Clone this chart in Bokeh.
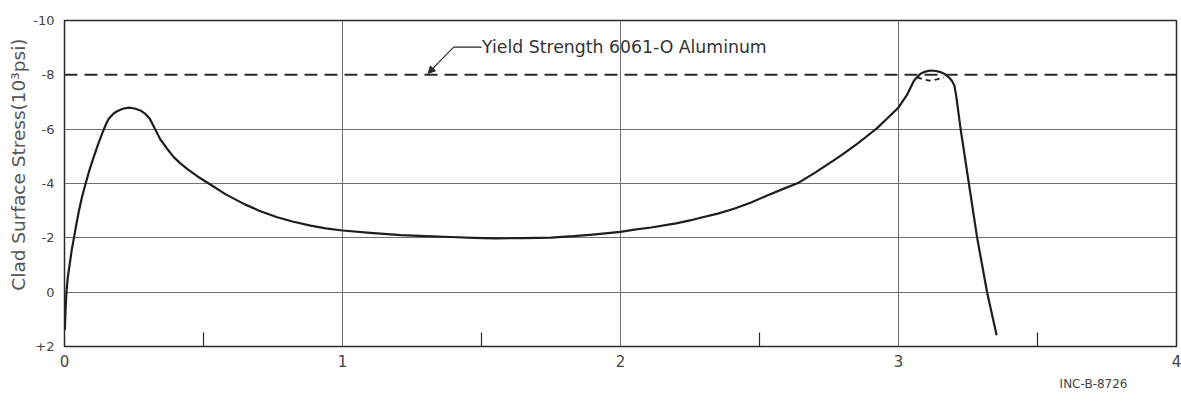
from bokeh.plotting import figure
from bokeh.models import Range1d, FixedTicker, Label, Arrow, NormalHead, Title
from bokeh.embed import file_html
from bokeh.resources import INLINE

# ---- data ----
stress_x = [0.001, 0.004, 0.007, 0.012, 0.019, 0.026, 0.034, 0.043, 0.052, 0.063,
            0.076, 0.090, 0.105, 0.122, 0.141, 0.150, 0.159, 0.175, 0.189, 0.210,
            0.231, 0.252, 0.273, 0.292, 0.307, 0.327, 0.345, 0.369, 0.393, 0.415,
            0.441, 0.480, 0.519, 0.580, 0.645, 0.700, 0.765, 0.820, 0.885, 0.940,
            1.000, 1.100, 1.210, 1.300, 1.390, 1.470, 1.550, 1.650, 1.750, 1.830,
            1.900, 2.000, 2.050, 2.110, 2.200, 2.250, 2.288, 2.350, 2.408, 2.470,
            2.528, 2.590, 2.641, 2.700, 2.767, 2.800, 2.850, 2.885, 2.923, 2.960,
            3.000, 3.030, 3.056, 3.079, 3.097, 3.115, 3.135, 3.151, 3.168, 3.181,
            3.192, 3.201, 3.208, 3.223, 3.253, 3.283, 3.319, 3.353]
stress_y = [1.40, 0.60, 0.00, -0.55, -1.05, -1.55, -2.00, -2.52, -3.00, -3.50,
            -4.00, -4.50, -4.97, -5.48, -5.98, -6.20, -6.38, -6.56, -6.66, -6.75,
            -6.79, -6.76, -6.69, -6.55, -6.38, -5.98, -5.62, -5.28, -4.97, -4.76,
            -4.54, -4.25, -4.00, -3.60, -3.25, -3.00, -2.76, -2.60, -2.45, -2.35,
            -2.27, -2.18, -2.10, -2.06, -2.03, -2.00, -1.98, -1.99, -2.01, -2.06,
            -2.12, -2.22, -2.30, -2.38, -2.53, -2.64, -2.74, -2.89, -3.07, -3.30,
            -3.56, -3.82, -4.03, -4.40, -4.85, -5.08, -5.45, -5.73, -6.04, -6.40,
            -6.80, -7.25, -7.79, -8.04, -8.12, -8.16, -8.14, -8.10, -8.02, -7.91,
            -7.78, -7.61, -7.20, -6.04, -4.01, -2.00, 0.02, 1.59]

# dashed (yield-limited) dip across the second peak
dip_x = [3.067, 3.090, 3.112, 3.138, 3.163]
dip_y = [-7.91, -7.83, -7.79, -7.83, -7.91]

yield_x = [0.0, 4.0]
yield_y = [-8.0, -8.0]
yield_text = "Yield Strength 6061-O Aluminum"

x_ticks = [0, 1, 2, 3, 4]
x_minor_ticks = [0.5, 1.5, 2.5, 3.5]
y_ticks = [-10, -8, -6, -4, -2, 0, 2]
y_tick_labels = ["-10", "-8", "-6", "-4", "-2", "0", "+2"]
x_grid = [1, 2, 3]
y_grid = [-6, -4, -2, 0]

y_title = "Clad Surface Stress(10³psi)"
figure_id = "INC-B-8726"

FONT = "DejaVu Sans"
INK = "#2a2a2a"

p = figure(width=1181, height=402, output_backend="svg", toolbar_location=None,
           x_range=Range1d(0, 4), y_range=Range1d(2, -10),
           min_border_left=64, min_border_right=5, min_border_top=20,
           min_border_bottom=56)
p.background_fill_color = "white"
p.border_fill_color = "white"
p.outline_line_color = INK
p.outline_line_width = 1.5

# grid
p.xgrid.ticker = FixedTicker(ticks=x_grid)
p.ygrid.ticker = FixedTicker(ticks=y_grid)
for g in (p.xgrid, p.ygrid):
    g.grid_line_color = "#707070"
    g.grid_line_width = 1

# x axis
xa = p.xaxis[0]
xa.ticker = FixedTicker(ticks=x_ticks, minor_ticks=x_minor_ticks)
xa.axis_line_color = None
xa.major_tick_in = 0
xa.major_tick_out = 0
xa.minor_tick_in = 14
xa.minor_tick_out = 0
xa.minor_tick_line_color = INK
xa.minor_tick_line_width = 1.2
xa.major_label_text_font = FONT
xa.major_label_text_font_size = "15px"
xa.major_label_text_color = "#444444"
xa.major_label_standoff = 8

# y axis
ya = p.yaxis[0]
ya.ticker = FixedTicker(ticks=y_ticks)
ya.major_label_overrides = {float(t): s for t, s in zip(y_ticks, y_tick_labels)}
ya.axis_line_color = None
ya.major_tick_in = 0
ya.major_tick_out = 0
ya.minor_tick_in = 0
ya.minor_tick_out = 0
ya.major_label_text_font = FONT
ya.major_label_text_font_size = "13px"
ya.major_label_text_color = "#444444"
ya.major_label_standoff = 10

# yield strength dashed line
p.line(yield_x, yield_y, line_color=INK, line_width=2, line_dash="13 7")

# stress curve
p.line(stress_x, stress_y, line_color="#1e1e1e", line_width=2.2, line_join="round")
p.line(dip_x, dip_y, line_color="#1e1e1e", line_width=1.8, line_dash="5 4")

# annotation leader
leader_x = [1.500, 1.400, 1.345]
leader_y = [-9.02, -9.02, -8.45]
p.line(leader_x, leader_y, line_color=INK, line_width=1.2)
p.add_layout(Arrow(end=NormalHead(size=7, fill_color=INK, line_color=INK),
                   x_start=1.345, y_start=-8.45, x_end=1.308, y_end=-8.05,
                   line_color=INK, line_width=1.2))
p.add_layout(Label(x=1.502, y=-9.04, text=yield_text, text_font=FONT,
                   text_font_size="17.3px", text_color="#333333",
                   text_align="left", text_baseline="middle"))

# y axis title (rotated, on the left side)
p.add_layout(Title(text=y_title, align="right", offset=18, standoff=4,
                   text_font=FONT, text_font_size="18.5px",
                   text_font_style="normal", text_color="#555555"), "left")

# figure id, below the axis at the right
p.add_layout(Title(text=figure_id, align="right", offset=49, text_font=FONT,
                   text_font_size="12px", text_font_style="normal",
                   text_color="#444444"), "below")

open("out.html", "w").write(file_html(p, INLINE))
